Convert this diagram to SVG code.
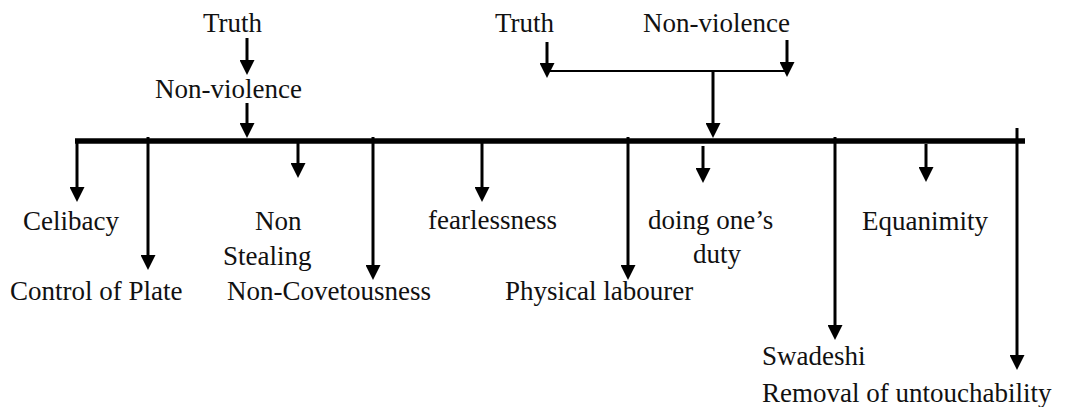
<svg xmlns="http://www.w3.org/2000/svg" width="1066" height="407" viewBox="0 0 1066 407">
<style>
text{font-size:27px;fill:#111}
.ar{stroke:#000;stroke-width:3;fill:none;marker-end:url(#ah)}
.bar{stroke:#000;stroke-width:5.5;fill:none}
.thin{stroke:#000;stroke-width:2;fill:none}
</style>
<defs>
<marker id="ah" markerUnits="userSpaceOnUse" markerWidth="15" markerHeight="15" refX="11" refY="7.5" orient="auto" viewBox="0 0 15 15">
<path d="M0,0 L15,7.5 L0,15 z" fill="#000"/>
</marker>
</defs>
<rect width="1066" height="407" fill="#fff"/>
<g id="connectors">
<line class="bar" x1="75" y1="141" x2="1025" y2="141"/>
<line class="ar" x1="247" y1="38" x2="247" y2="71"/>
<line class="ar" x1="247" y1="103" x2="247" y2="134"/>
<line class="ar" x1="547" y1="42" x2="547" y2="74"/>
<line class="ar" x1="787" y1="40" x2="787" y2="73"/>
<line class="thin" x1="547" y1="71" x2="787" y2="71"/>
<line class="ar" x1="713" y1="72" x2="713" y2="134"/>
<line class="ar" x1="77" y1="139" x2="77" y2="198"/>
<line class="ar" x1="148" y1="137" x2="148" y2="266"/>
<line class="ar" x1="298" y1="143" x2="298" y2="174"/>
<line class="ar" x1="373" y1="137" x2="373" y2="276"/>
<line class="ar" x1="482" y1="143" x2="482" y2="198"/>
<line class="ar" x1="628" y1="137" x2="628" y2="276"/>
<line class="ar" x1="703" y1="146" x2="703" y2="179"/>
<line class="ar" x1="835" y1="137" x2="835" y2="336"/>
<line class="ar" x1="926" y1="144" x2="926" y2="178"/>
<line class="ar" x1="1017" y1="128" x2="1017" y2="366"/>
</g>
<g font-family="Liberation Serif, DejaVu Serif, serif">
<g id="n-truth-left"><text x="203" y="32">Truth</text></g>
<g id="n-nonviolence-left"><text x="155" y="98">Non-violence</text></g>
<g id="n-truth-right"><text x="495" y="32">Truth</text></g>
<g id="n-nonviolence-right"><text x="643" y="32">Non-violence</text></g>
<g id="n-celibacy"><text x="23" y="230">Celibacy</text></g>
<g id="n-control"><text x="10" y="300">Control of Plate</text></g>
<g id="n-nonstealing"><text x="255" y="230">Non</text><text x="223" y="265">Stealing</text></g>
<g id="n-noncovetousness"><text x="227" y="300">Non-Covetousness</text></g>
<g id="n-fearlessness"><text x="428" y="229">fearlessness</text></g>
<g id="n-physical"><text x="505" y="300">Physical labourer</text></g>
<g id="n-duty"><text x="648" y="229">doing one’s</text><text x="693" y="263">duty</text></g>
<g id="n-equanimity"><text x="862" y="230">Equanimity</text></g>
<g id="n-swadeshi"><text x="762" y="365">Swadeshi</text></g>
<g id="n-removal"><text x="762" y="402">Removal of untouchability</text></g>
</g>
</svg>
